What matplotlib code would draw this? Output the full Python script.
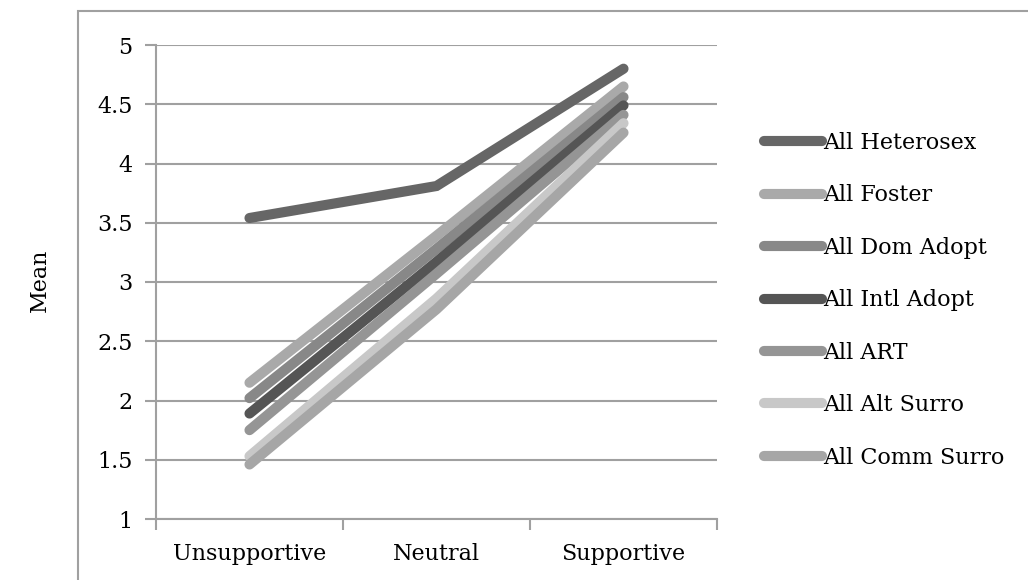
import matplotlib
matplotlib.use("Agg")
import matplotlib.pyplot as plt
from matplotlib.patches import Rectangle

categories = ["Unsupportive", "Neutral", "Supportive"]
series_names = ["All Heterosex", "All Foster", "All Dom Adopt", "All Intl Adopt",
                "All ART", "All Alt Surro", "All Comm Surro"]
heterosex = [3.54, 3.81, 4.80]
foster = [2.15, 3.39, 4.65]
dom_adopt = [2.02, 3.28, 4.56]
intl_adopt = [1.89, 3.17, 4.49]
art = [1.75, 3.07, 4.41]
alt_surro = [1.53, 2.86, 4.34]
comm_surro = [1.46, 2.77, 4.26]
series_values = [heterosex, foster, dom_adopt, intl_adopt, art, alt_surro, comm_surro]
colors = ["#666666", "#a9a9a9", "#888888", "#555555", "#959595", "#c8c8c8", "#a6a6a6"]
yticks = [1, 1.5, 2, 2.5, 3, 3.5, 4, 4.5, 5]
ytick_labels = ["1", "1.5", "2", "2.5", "3", "3.5", "4", "4.5", "5"]

plt.rcParams['font.family'] = ['DejaVu Serif']
W, H = 1028, 580
fig = plt.figure(figsize=(W / 100, H / 100), dpi=100)

# outer chart border (left/top visible, the rest runs off the image)
fig.patches.append(Rectangle((78 / W, -0.05), 1.2, (H - 11) / H + 0.05,
                             transform=fig.transFigure, fill=False,
                             edgecolor="#a0a0a0", linewidth=1.5))

ax = fig.add_axes([156 / W, (H - 519) / H, (717 - 156) / W, (519 - 45) / H])
x = list(range(len(categories)))
for name, vals, c in zip(series_names, series_values, colors):
    ax.plot(x, vals, color=c, linewidth=7.3, solid_capstyle="round",
            solid_joinstyle="miter", label=name, zorder=3)

ax.set_xlim(-0.5, len(categories) - 0.5)
ax.set_ylim(1, 5)
ax.set_yticks(yticks)
ax.set_yticklabels(ytick_labels)
ax.set_xticks(x)
ax.set_xticklabels(categories)
ax.set_xticks([-0.5, 0.5, 1.5, 2.5], minor=True)
ax.tick_params(axis="x", which="major", length=0, pad=17, labelsize=16)
ax.tick_params(axis="x", which="minor", length=8, width=1.5, color="#a0a0a0")
ax.tick_params(axis="y", length=8, width=1.5, color="#a0a0a0", pad=9, labelsize=16)
for lab in ax.get_yticklabels():
    lab.set_horizontalalignment("right")
ax.grid(axis="y", color="#a0a0a0", linewidth=1.5, zorder=0)
ax.set_axisbelow(True)
for s in ["top", "right"]:
    ax.spines[s].set_visible(False)
for s in ["left", "bottom"]:
    ax.spines[s].set_color("#a0a0a0")
    ax.spines[s].set_linewidth(1.5)

fig.text(40 / W, (H - 280) / H, "Mean", rotation=90, ha="center", va="center", fontsize=16)

leg = fig.legend(loc="upper left", bbox_to_anchor=(764 / W, (H - 132) / H),
                 frameon=False, fontsize=16, handlelength=2.6, handletextpad=0.05,
                 labelspacing=1.37, borderaxespad=0, borderpad=0)

fig.savefig("out.png", dpi=100)
